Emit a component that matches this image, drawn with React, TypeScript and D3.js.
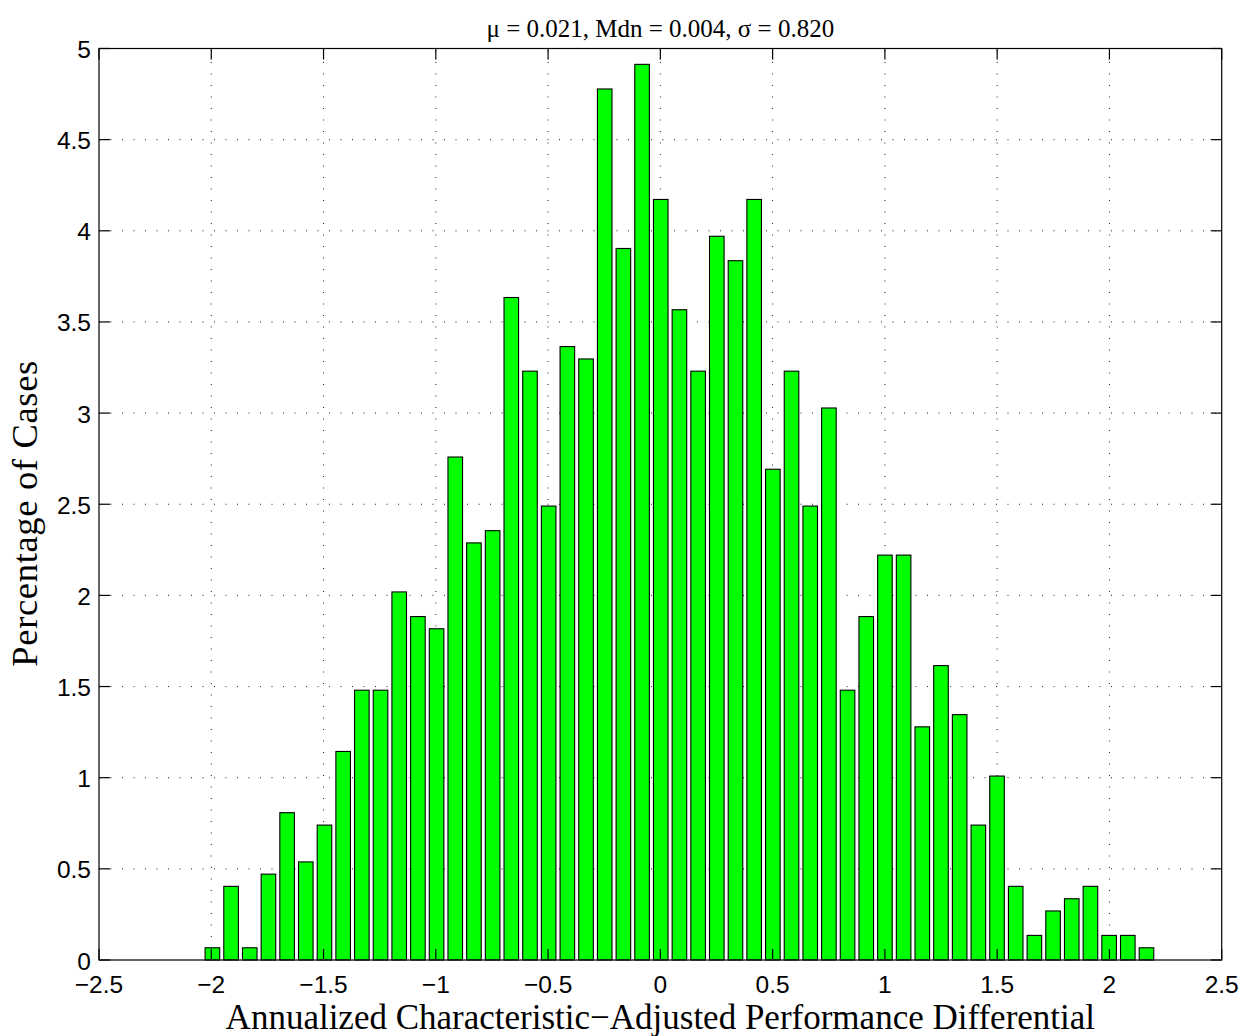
import React from "react";
import * as d3 from "d3";

// Histogram of annualized characteristic-adjusted performance differentials
const percentages = [
  0.067, 0.404, 0.067, 0.471, 0.808, 0.538, 0.74, 1.144, 1.48, 1.48,
  2.019, 1.884, 1.817, 2.759, 2.288, 2.355, 3.634, 3.23, 2.49, 3.365,
  3.297, 4.778, 3.903, 4.913, 4.172, 3.567, 3.23, 3.97, 3.836, 4.172,
  2.692, 3.23, 2.49, 3.028, 1.48, 1.884, 2.221, 2.221, 1.279, 1.615,
  1.346, 0.74, 1.009, 0.404, 0.135, 0.269, 0.336, 0.404, 0.135, 0.135,
  0.067,
];
const firstBinCenter = -1.995;
const binWidth = 0.0832;

const xTicks = [-2.5, -2, -1.5, -1, -0.5, 0, 0.5, 1, 1.5, 2, 2.5];
const yTicks = [0, 0.5, 1, 1.5, 2, 2.5, 3, 3.5, 4, 4.5, 5];

const titleText = "μ = 0.021, Mdn = 0.004, σ = 0.820";
const xLabelText = "Annualized Characteristic−Adjusted Performance Differential";
const yLabelText = "Percentage of Cases";

const W = 1250;
const H = 1036;
const plot = { left: 99, right: 1221.7, top: 48.5, bottom: 960 };

const fmt = (v: number) => String(v).replace("-", "\u2212");

export default function App() {
  const x = d3.scaleLinear().domain([-2.5, 2.5]).range([plot.left, plot.right]);
  const y = d3.scaleLinear().domain([0, 5]).range([plot.bottom, plot.top]);
  const barW = x(0.78 * binWidth) - x(0);
  const tickLen = 11;
  const sans = "'Liberation Sans', Arial, Helvetica, sans-serif";
  const serif = "'Liberation Serif', 'Times New Roman', Times, serif";

  return (
    <svg
      width={W}
      height={H}
      viewBox={`0 0 ${W} ${H}`}
      style={{ position: "absolute", left: 0, top: 0, background: "#fff" }}
    >
      <rect x={0} y={0} width={W} height={H} fill="#fff" />

      {/* dotted grid */}
      <g stroke="#222" strokeWidth={1} strokeDasharray="1 10.5" fill="none">
        {xTicks.slice(1, -1).map((t) => (
          <line key={`gx${t}`} x1={x(t)} x2={x(t)} y1={plot.bottom} y2={plot.top} />
        ))}
        {yTicks.slice(1, -1).map((t) => (
          <line key={`gy${t}`} x1={plot.left} x2={plot.right} y1={y(t)} y2={y(t)} />
        ))}
      </g>

      {/* bars */}
      <g fill="#00ff00" stroke="#000" strokeWidth={1.1}>
        {percentages.map((v, i) => {
          const c = firstBinCenter + i * binWidth;
          return (
            <rect
              key={i}
              x={x(c) - barW / 2}
              y={y(v)}
              width={barW}
              height={y(0) - y(v)}
            />
          );
        })}
      </g>

      {/* axes box and ticks */}
      <g stroke="#000" strokeWidth={1.2} fill="none">
        <rect
          x={plot.left}
          y={plot.top}
          width={plot.right - plot.left}
          height={plot.bottom - plot.top}
        />
        {xTicks.map((t) => (
          <g key={`tx${t}`}>
            <line x1={x(t)} x2={x(t)} y1={plot.bottom} y2={plot.bottom - tickLen} />
            <line x1={x(t)} x2={x(t)} y1={plot.top} y2={plot.top + tickLen} />
          </g>
        ))}
        {yTicks.map((t) => (
          <g key={`ty${t}`}>
            <line x1={plot.left} x2={plot.left + tickLen} y1={y(t)} y2={y(t)} />
            <line x1={plot.right} x2={plot.right - tickLen} y1={y(t)} y2={y(t)} />
          </g>
        ))}
      </g>

      {/* tick labels */}
      <g fontFamily={sans} fontSize={24.5} fill="#000">
        {xTicks.map((t) => (
          <text key={`lx${t}`} x={x(t)} y={992.5} textAnchor="middle">
            {fmt(t)}
          </text>
        ))}
        {yTicks.map((t) => (
          <text key={`ly${t}`} x={plot.left - 8} y={y(t) + 9.5} textAnchor="end">
            {fmt(t)}
          </text>
        ))}
      </g>

      {/* title and axis labels */}
      <text
        x={(plot.left + plot.right) / 2}
        y={37}
        textAnchor="middle"
        fontFamily={serif}
        fontSize={25}
        fill="#000"
      >
        {titleText}
      </text>
      <text
        x={(plot.left + plot.right) / 2}
        y={1029}
        textAnchor="middle"
        fontFamily={serif}
        fontSize={35}
        fill="#000"
      >
        {xLabelText}
      </text>
      <text
        transform={`translate(37, ${513.7}) rotate(-90)`}
        textAnchor="middle"
        fontFamily={serif}
        fontSize={36.5}
        textLength={306}
        lengthAdjust="spacing"
        fill="#000"
      >
        {yLabelText}
      </text>
    </svg>
  );
}
